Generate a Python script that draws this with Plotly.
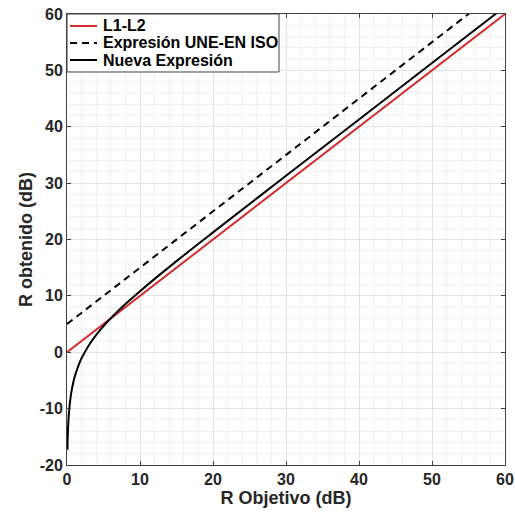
import plotly.graph_objects as go

# Data
x_l1l2 = [0, 60]
y_l1l2 = [0, 60]

x_une = [0, 60]
y_une = [5, 65]

x_nueva = [0.06, 0.1, 0.2, 0.3, 0.5, 0.75, 1.0, 1.5, 2.0, 3.0, 4.0, 5.0, 6.0, 8.0,
           10.0, 15.0, 20.0, 30.0, 40.0, 50.0, 60.0]
y_nueva = [-17.3, -15.0, -12.0, -10.2, -7.9, -6.0, -4.6, -2.6, -1.05, 1.25, 3.1, 4.65,
           6.04, 8.55, 10.84, 16.16, 21.26, 31.3, 41.3, 51.3, 61.3]

x_ticks = [0, 10, 20, 30, 40, 50, 60]
x_ticktext = ["0", "10", "20", "30", "40", "50", "60"]
y_ticks = [-20, -10, 0, 10, 20, 30, 40, 50, 60]
y_ticktext = ["-20", "-10", "0", "10", "20", "30", "40", "50", "60"]

series_names = ["L1-L2", "Expresión UNE-EN ISO", "Nueva Expresión"]
series_colors = ["#d42a2a", "black", "black"]
series_dashes = ["solid", "7px,5px", "solid"]

font_family = "Liberation Sans, Arial, sans-serif"
tick_color = "#262626"

fig = go.Figure()
fig.add_trace(go.Scatter(x=x_l1l2, y=y_l1l2, mode="lines", name=series_names[0],
                         line=dict(color=series_colors[0], width=2, dash=series_dashes[0])))
fig.add_trace(go.Scatter(x=x_une, y=y_une, mode="lines", name=series_names[1],
                         line=dict(color=series_colors[1], width=2, dash=series_dashes[1])))
fig.add_trace(go.Scatter(x=x_nueva, y=y_nueva, mode="lines", name=series_names[2],
                         line=dict(color=series_colors[2], width=2, dash=series_dashes[2],
                                   shape="spline")))

axis_common = dict(
    showline=True, linecolor="#404040", linewidth=1, mirror="ticks",
    ticks="inside", ticklen=4, tickcolor="#404040",
    showgrid=True, gridcolor="#e3e3e3", gridwidth=1,
    zeroline=False, automargin=False,
    tickfont=dict(family=font_family, size=16, color=tick_color, weight="bold"),
    minor=dict(showgrid=True, gridcolor="#f1f1f1", gridwidth=1, dtick=2),
)

# Compact legend box drawn in paper coordinates (MATLAB-style)
shapes = [dict(type="rect", xref="paper", yref="paper", x0=0, x1=0.484, y0=0.8714, y1=1,
               fillcolor="white", line=dict(color="#404040", width=1), layer="above")]
annotations = []
row_y = [0.9734, 0.9357, 0.898]
for name, col, dsh, yy in zip(series_names, series_colors, series_dashes, row_y):
    shapes.append(dict(type="line", xref="paper", yref="paper", x0=0.007, x1=0.0685,
                       y0=yy, y1=yy, line=dict(color=col, width=2, dash=dsh), layer="above"))
    annotations.append(dict(xref="paper", yref="paper", x=0.078, y=yy, xanchor="left",
                            yanchor="middle", showarrow=False, text="<b>%s</b>" % name,
                            font=dict(family=font_family, size=16, color="black")))

fig.update_layout(
    width=515, height=518,
    margin=dict(l=67, r=10, t=14, b=53),
    paper_bgcolor="white", plot_bgcolor="white",
    font=dict(family=font_family, color=tick_color),
    xaxis=dict(range=[0, 60], tickvals=x_ticks, ticktext=x_ticktext, **axis_common,
               title=dict(text="<b>R Objetivo (dB)</b>", standoff=0,
                          font=dict(family=font_family, size=18, color=tick_color))),
    yaxis=dict(range=[-20, 60], tickvals=y_ticks, ticktext=y_ticktext, **axis_common,
               title=dict(text="<b>R obtenido (dB)</b>", standoff=2,
                          font=dict(family=font_family, size=18, color=tick_color))),
    shapes=shapes,
    annotations=annotations,
    showlegend=False,
)

fig.write_html(
    "out.html",
    config={"displayModeBar": False, "responsive": False},
    post_script="document.body.style.margin='0';"
                "document.documentElement.style.overflow='hidden';",
)
